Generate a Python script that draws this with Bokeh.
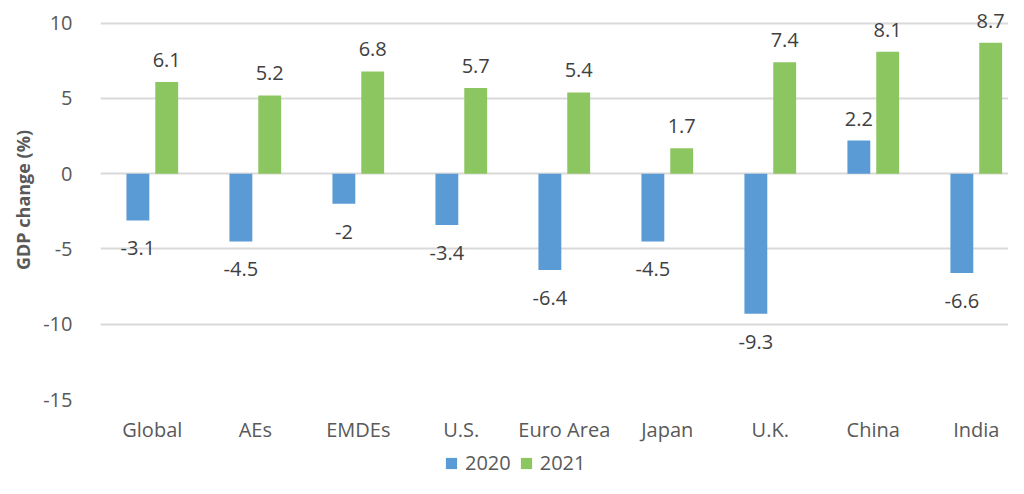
import numpy as np
from bokeh.plotting import figure
from bokeh.layouts import column
from bokeh.models import (ColumnDataSource, Range1d, FixedTicker, Legend, LegendItem)
from bokeh.core.properties import value
from bokeh.embed import file_html
from bokeh.resources import INLINE

categories = ["Global", "AEs", "EMDEs", "U.S.", "Euro Area", "Japan", "U.K.", "China", "India"]
gdp_2020 = [-3.1, -4.5, -2.0, -3.4, -6.4, -4.5, -9.3, 2.2, -6.6]
gdp_2021 = [6.1, 5.2, 6.8, 5.7, 5.4, 1.7, 7.4, 8.1, 8.7]
y_ticks = [-15, -10, -5, 0, 5, 10]
series_names = ["2020", "2021"]

FONT = "Open Sans"
BLUE = "#5B9BD5"
GREEN = "#8CC660"

x = np.arange(len(categories))
off = 0.14
bw = 0.222
xr = (-0.503, 8.313)

p = figure(width=1008, height=448, output_backend="svg", toolbar_location=None,
           x_range=Range1d(*xr), y_range=Range1d(-15, 11.51),
           min_border_left=100, min_border_right=0, min_border_top=0, min_border_bottom=49)
p.outline_line_color = None
p.background_fill_color = "white"
p.border_fill_color = "white"

def fmt(v):
    return f"{v:g}"

src20 = ColumnDataSource(dict(x=x - off, top=gdp_2020,
                              lab=[fmt(v) for v in gdp_2020],
                              yoff=[-22 if v >= 0 else 28 for v in gdp_2020]))
src21 = ColumnDataSource(dict(x=x + off, top=gdp_2021,
                              lab=[fmt(v) for v in gdp_2021],
                              yoff=[-22 if v >= 0 else 28 for v in gdp_2021]))

p.vbar(x="x", top="top", bottom=0, width=bw, source=src20, fill_color=BLUE, line_color=None)
p.vbar(x="x", top="top", bottom=0, width=bw, source=src21, fill_color=GREEN, line_color=None)

for s in (src20, src21):
    p.text(x="x", y="top", text="lab", source=s, y_offset="yoff",
           text_align="center", text_baseline="middle",
           text_font=value(FONT), text_font_size="20px", text_color="#404040")

# axes
p.xaxis.ticker = FixedTicker(ticks=list(x))
p.xaxis.major_label_overrides = {int(i): c for i, c in zip(x, categories)}
p.xaxis.axis_line_color = None
p.xaxis.major_tick_line_color = None
p.xaxis.minor_tick_line_color = None
p.xaxis.major_label_text_font = FONT
p.xaxis.major_label_text_font_size = "20px"
p.xaxis.major_label_text_color = "#595959"
p.xaxis.major_label_standoff = 10
p.xgrid.grid_line_color = None

p.yaxis.ticker = FixedTicker(ticks=y_ticks)
p.yaxis.major_label_overrides = {t: str(t) for t in y_ticks}
p.yaxis.axis_line_color = None
p.yaxis.major_tick_line_color = None
p.yaxis.minor_tick_line_color = None
p.yaxis.major_label_text_font = FONT
p.yaxis.major_label_text_font_size = "20px"
p.yaxis.major_label_text_color = "#595959"
p.yaxis.major_label_standoff = 22
p.yaxis.axis_label = "GDP change (%)"
p.yaxis.axis_label_text_font = FONT
p.yaxis.axis_label_text_font_style = "bold"
p.yaxis.axis_label_text_font_size = "18px"
p.yaxis.axis_label_text_color = "#595959"
p.yaxis.axis_label_standoff = 5
p.ygrid.ticker = FixedTicker(ticks=y_ticks)
p.ygrid.grid_line_color = "#D9D9D9"
p.ygrid.grid_line_width = 2

# legend strip (its bars lie outside its y range, only the legend shows)
q = figure(width=1008, height=30, output_backend="svg", toolbar_location=None,
           x_range=Range1d(*xr), y_range=Range1d(100, 101),
           min_border_left=0, min_border_right=0, min_border_top=0, min_border_bottom=0)
q.axis.visible = False
q.grid.visible = False
q.outline_line_color = None
q.border_fill_color = "white"
l20 = q.vbar(x="x", top="top", bottom=0, width=bw, source=src20, fill_color=BLUE, line_color=None)
l21 = q.vbar(x="x", top="top", bottom=0, width=bw, source=src21, fill_color=GREEN, line_color=None)
legend = Legend(items=[LegendItem(label=series_names[0], renderers=[l20]),
                       LegendItem(label=series_names[1], renderers=[l21])],
                orientation="horizontal", location=(344, 2),
                glyph_width=14, glyph_height=14, label_standoff=7, spacing=8,
                padding=0, margin=0, border_line_color=None, background_fill_alpha=0,
                label_text_font=FONT, label_text_font_size="20px", label_text_color="#595959",
                label_height=20)
q.add_layout(legend, "center")

layout = column(p, q, spacing=0)
open("out.html", "w").write(file_html(layout, INLINE))
